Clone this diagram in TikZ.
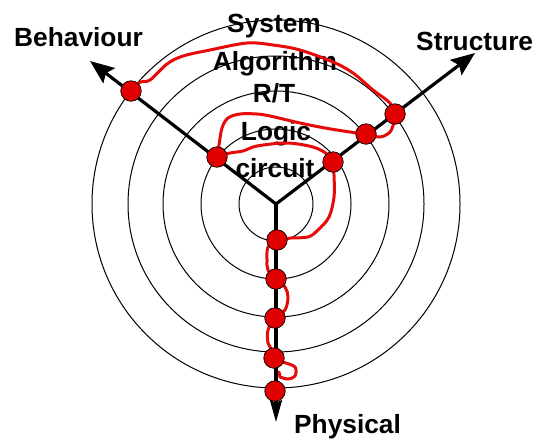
\documentclass[tikz,border=0pt]{standalone}
\usepackage{fontspec}
\setmainfont{Liberation Sans}
\usetikzlibrary{arrows.meta}
\definecolor{dotred}{RGB}{224,0,0}
\definecolor{trailred}{RGB}{230,10,10}
\begin{document}
\begin{tikzpicture}[x=1pt,y=-1pt,
  ring/.style={draw=black,line width=1pt},
  axis/.style={line width=3.2pt,-{Stealth[length=24pt,width=19pt,inset=4pt]}},
  axisdown/.style={line width=3.2pt,-{Stealth[length=22pt,width=12pt,inset=3pt]}},
  dot/.style={circle,fill=dotred,draw=black,line width=0.7pt,minimum size=20.5pt,inner sep=0pt},
  trail/.style={draw=trailred,line width=3pt,line join=round,line cap=round},
  lbl/.style={font=\fontsize{26.3}{31}\selectfont\bfseries,inner sep=0pt}]
\useasboundingbox (0,0) rectangle (537,440);
\coordinate (c) at (276,204);
% rings
\foreach \r in {37,75,113,148,184} \draw[ring] (c) circle (\r pt);
% axes
\coordinate (bt) at (90,61);
\coordinate (st) at (475,53);
\coordinate (ph) at (276,422);
\draw[axis] (c) -- (bt);
\draw[axis] (c) -- (st);
\draw[axisdown] (c) -- (ph);
% labels
\node[lbl,anchor=base west] (beh) at (14,46) {Behaviour};
\node[lbl,anchor=base west] (str) at (416,50) {Structure};
\node[lbl,anchor=base west] (phy) at (294,433) {Physical};
\node[lbl,anchor=base] (sys) at (274,32) {System};
\node[lbl,anchor=base] (alg) at (275,70) {Algorithm};
\node[lbl,anchor=base] (rt) at (274,102) {R/T};
\node[lbl,anchor=base] (log) at (276,140) {Logic};
\node[lbl,anchor=base] (cir) at (275,177) {circuit};
% dot positions
\coordinate (b1) at (131,91);
\coordinate (b2) at (217,157);
\coordinate (s1) at (395,114);
\coordinate (s2) at (366,134);
\coordinate (s3) at (333,162);
\coordinate (p1) at (277,240);
\coordinate (p2) at (276,279);
\coordinate (p3) at (275,318);
\coordinate (p4) at (274,358);
\coordinate (p5) at (275,391);
% red trail
\draw[trail] plot[smooth,tension=0.55] coordinates {(b1) (140,82) (150,80) (167,64) (183,56) (210,50) (247,43) (273,45) (300,50) (333,62) (353,73) (373,90) (390,103) (s1) (394,122) (390,132) (380,137) (s2)};
\draw[trail] plot[smooth,tension=0.55] coordinates {(s2) (350,132) (325,128) (300,123) (270,116) (257,114) (240,114) (228,118) (222,128) (219,145) (b2)};
\draw[trail] plot[smooth,tension=0.55] coordinates {(b2) (230,153) (243,151) (257,146) (287,143) (313,147) (327,154) (s3)};
\draw[trail] plot[smooth,tension=0.55] coordinates {(s3) (334,175) (334,197) (329,217) (318,230) (308,237) (291,238) (p1)};
\draw[trail] plot[smooth,tension=0.55] coordinates {(p1) (268,247) (267,260) (268,270) (p2) (285,287) (288,297) (285,310) (p3) (268,330) (268,343) (272,350) (p4) (283,362) (295,367) (295,376) (288,379) (280,377)};
\draw[trail] (280,377) -- (279,372);
% dots
\foreach \d in {b1,b2,s1,s2,s3,p1,p2,p3,p4,p5} \node[dot] (D\d) at (\d) {};
\end{tikzpicture}
\end{document}
